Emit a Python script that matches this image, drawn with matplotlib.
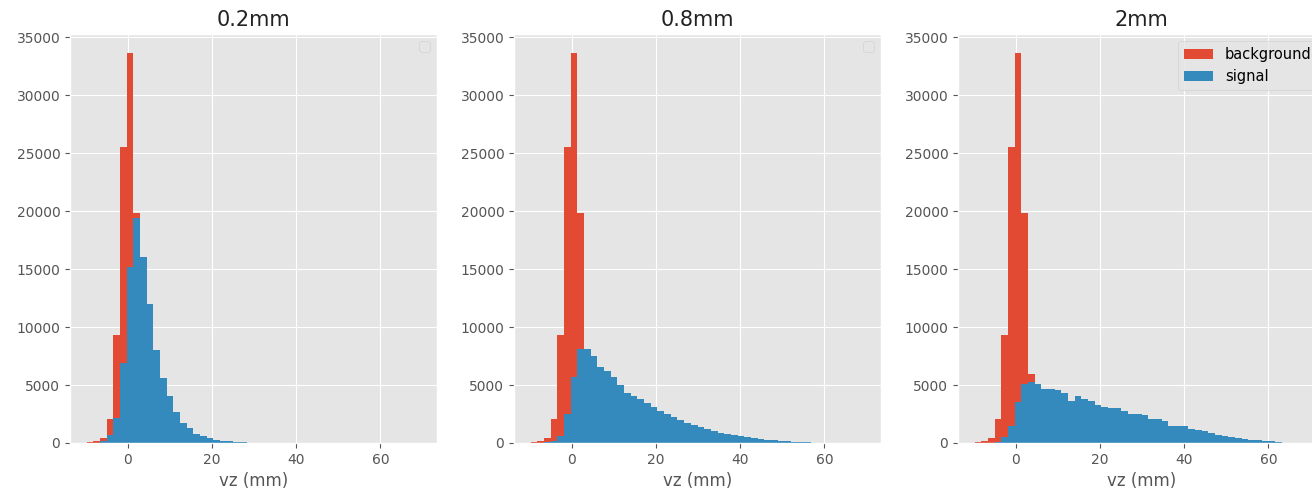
import numpy as np
import matplotlib
matplotlib.use("Agg")
import matplotlib.pyplot as plt

# shared binning: 50 bins over the vz range (mm)
vz_lo, vz_hi, n_bins = -9.8, 69.5, 50

panel_titles = ["0.2mm", "0.8mm", "2mm"]

# counts per bin (bins not listed are empty)
background = [50, 150, 420, 2090, 9290, 25550, 33620, 19880, 5960, 1300,
              350, 90, 25, 8]

signal_02 = [0, 0, 200, 650, 2200, 6900, 15180, 19450, 16050, 11960,
             8070, 5590, 4090, 2710, 1700, 1270, 780, 605, 400, 290,
             200, 140, 120, 100]

signal_08 = [0, 0, 60, 150, 630, 2500, 5730, 8120, 8080, 7550,
             6540, 6190, 5730, 5010, 4290, 4090, 3800, 3430, 3080, 2740,
             2500, 2220, 1990, 1760, 1560, 1350, 1180, 1010, 860, 780,
             690, 580, 490, 400, 350, 290, 230, 200, 160, 120,
             100, 90]

signal_2 = [0, 0, 30, 100, 500, 1510, 3530, 5110, 5260, 5110,
            4620, 4620, 4540, 4310, 3590, 4020, 3820, 3590, 3300, 3100,
            3010, 3010, 2720, 2460, 2460, 2380, 2090, 2090, 1940, 1510,
            1510, 1430, 1220, 1140, 1020, 850, 710, 590, 500, 420,
            360, 270, 220, 160, 130, 100]

signals = [signal_02, signal_08, signal_2]

edges = np.linspace(vz_lo, vz_hi, n_bins + 1)
centers = 0.5 * (edges[:-1] + edges[1:])


def pad(counts):
    return list(counts) + [0] * (n_bins - len(counts))


plt.style.use("ggplot")
fig = plt.figure(figsize=(13.12, 4.92), dpi=100)

W, H = 1312.0, 492.0
ax_left = [70, 514, 958]
ax_w, ax_top, ax_bottom = 367, 34, 443

for i, (title, sig) in enumerate(zip(panel_titles, signals)):
    ax = fig.add_axes([ax_left[i] / W, 1 - ax_bottom / H,
                       ax_w / W, (ax_bottom - ax_top) / H])
    last = i == len(panel_titles) - 1
    ax.hist(centers, bins=edges, weights=pad(background), color="#E24A33",
            label="background" if last else None)
    ax.hist(centers, bins=edges, weights=pad(sig), color="#348ABD",
            label="signal" if last else None)
    ax.set_title(title, fontsize=15, color="#222222")
    ax.set_xlabel("vz (mm)")
    ax.set_xticks([0, 20, 40, 60])
    ax.set_yticks(np.arange(0, 35001, 5000))
    if last:
        ax.legend(loc="upper right", fontsize=10.5)
    else:
        # the original calls legend() on panels without labels -> empty box
        ax.legend(handles=[], loc="upper right")

fig.savefig("out.png", dpi=100)
